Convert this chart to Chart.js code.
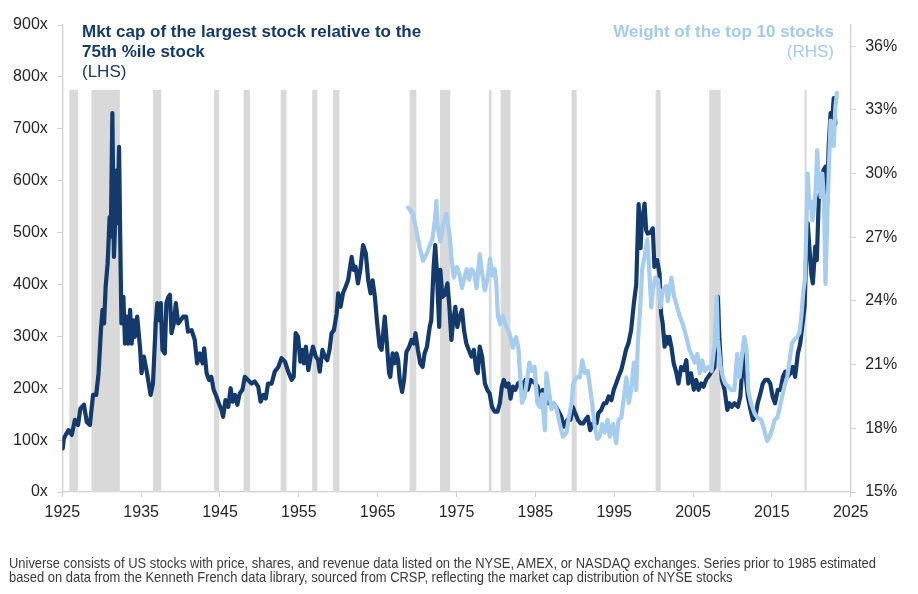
<!DOCTYPE html>
<html>
<head>
<meta charset="utf-8">
<script src="https://cdn.jsdelivr.net/npm/chart.js@4.4.1/dist/chart.umd.min.js"></script>
<style>
  html, body { margin: 0; padding: 0; background: #fff; }
  #wrap { position: relative; width: 918px; height: 594px; overflow: hidden; font-family: "Liberation Sans", Arial, sans-serif; }
  canvas { position: absolute; left: 0; top: 0; }
  .t { position: absolute; font-size: 17px; line-height: 20px; white-space: nowrap; }
  #tl { left: 82px; top: 21.5px; color: #143a6b; }
  #tr { right: 84px; top: 21.5px; color: #a3cbed; text-align: right; }
  .b { font-weight: bold; }
  #foot { position: absolute; left: 8.5px; top: 556px; font-family: "Liberation Sans Narrow", "Arial Narrow", "Liberation Sans", Arial, sans-serif; font-size: 14.5px; line-height: 14.3px; color: #3a3a3a; }
  #foot div { white-space: nowrap; transform-origin: 0 0; }
</style>
</head>
<body>
<div id="wrap">
  <canvas id="c" width="918" height="594"></canvas>
  <div class="t" id="tl"><div class="b">Mkt cap of the largest stock relative to the</div><div class="b">75th %ile stock</div><div>(LHS)</div></div>
  <div class="t" id="tr"><div class="b">Weight of the top 10 stocks</div><div>(RHS)</div></div>
  <div id="foot">
    <div id="f1">Universe consists of US stocks with price, shares, and revenue data listed on the NYSE, AMEX, or NASDAQ exchanges. Series prior to 1985 estimated</div>
    <div id="f2">based on data from the Kenneth French data library, sourced from CRSP, reflecting the market cap distribution of NYSE stocks</div>
  </div>
</div>
<script>
// ---- Data ----
const xTickYears = [1925, 1935, 1945, 1955, 1965, 1975, 1985, 1995, 2005, 2015, 2025];
const leftTicks = [0, 100, 200, 300, 400, 500, 600, 700, 800, 900];
const rightTicks = [15, 18, 21, 24, 27, 30, 33, 36];

// Recession periods (start, end) on the chart's year axis
const recessionStarts = [1925.9, 1928.7, 1936.5, 1944.25, 1948.0, 1952.7, 1956.7, 1959.35, 1969.05, 1972.9, 1979.1, 1980.6, 1989.6, 2000.25, 2007.05, 2019.15];
const recessionEnds   = [1927.0, 1932.3, 1937.55, 1944.9, 1948.8, 1953.45, 1957.35, 1960.15, 1969.9, 1974.2, 1979.45, 1981.85, 1990.25, 2000.9, 2008.5, 2019.4];
const recessionTop = 775;

// Mkt cap of the largest stock relative to the 75th %ile stock (LHS, x)
const capYears = [
1925.05,1925.2,1925.5,1925.8,1926.2,1926.6,1927.0,1927.3,1927.75,1928.1,
1928.5,1928.9,1929.3,1929.6,1929.9,1930.1,1930.3,1930.5,1930.75,1931.0,
1931.15,1931.35,1931.55,1931.7,1931.9,1932.0,1932.2,1932.35,1932.5,1932.75,
1932.95,1933.15,1933.35,1933.6,1933.8,1934.0,1934.2,1934.5,1934.85,1935.05,
1935.35,1935.75,1936.2,1936.5,1936.85,1937.05,1937.3,1937.5,1937.7,1938.0,
1938.2,1938.45,1938.65,1938.85,1939.15,1939.4,1939.7,1940.0,1940.35,1940.7,
1940.95,1941.4,1941.8,1942.1,1942.45,1942.8,1943.0,1943.3,1943.6,1943.9,
1944.2,1944.55,1944.85,1945.2,1945.4,1945.7,1946.05,1946.35,1946.6,1946.9,
1947.2,1947.5,1947.85,1948.15,1948.55,1949.0,1949.4,1949.85,1950.15,1950.5,
1950.8,1951.1,1951.55,1951.95,1952.4,1952.8,1953.25,1953.65,1954.1,1954.35,
1954.6,1954.9,1955.2,1955.45,1955.65,1955.9,1956.2,1956.5,1956.8,1957.15,
1957.45,1957.65,1958.0,1958.3,1958.6,1958.9,1959.15,1959.45,1959.8,1960.0,
1960.3,1960.6,1960.95,1961.25,1961.45,1961.7,1961.95,1962.2,1962.5,1962.8,
1963.15,1963.5,1963.8,1964.1,1964.35,1964.65,1964.9,1965.25,1965.5,1965.7,
1965.9,1966.1,1966.45,1966.6,1966.9,1967.15,1967.4,1967.6,1967.8,1968.1,
1968.35,1968.65,1969.0,1969.3,1969.6,1969.8,1970.1,1970.4,1970.7,1970.95,
1971.25,1971.6,1971.8,1972.1,1972.3,1972.5,1972.8,1972.95,1973.2,1973.5,
1973.85,1974.1,1974.35,1974.55,1974.85,1975.1,1975.4,1975.7,1975.95,1976.25,
1976.55,1976.9,1977.2,1977.5,1977.7,1977.95,1978.25,1978.6,1978.9,1979.2,
1979.5,1979.85,1980.2,1980.5,1980.75,1981.0,1981.3,1981.6,1981.85,1982.15,
1982.45,1982.8,1983.15,1983.4,1983.75,1984.05,1984.4,1984.7,1985.0,1985.3,
1985.65,1985.95,1986.2,1986.6,1987.0,1987.45,1987.85,1988.3,1988.6,1989.05,
1989.45,1989.75,1990.05,1990.4,1990.75,1991.05,1991.35,1991.65,1991.95,1992.3,
1992.75,1993.0,1993.35,1993.7,1994.0,1994.3,1994.65,1994.95,1995.25,1995.55,
1995.9,1996.2,1996.5,1996.8,1997.15,1997.5,1997.8,1997.9,1998.1,1998.35,
1998.5,1998.85,1999.05,1999.25,1999.6,1999.9,2000.1,2000.45,2000.75,2000.95,
2001.15,2001.4,2001.6,2001.8,2002.0,2002.25,2002.55,2002.85,2003.15,2003.5,
2003.85,2004.15,2004.4,2004.75,2005.1,2005.4,2005.7,2006.05,2006.35,2006.65,
2007.2,2007.7,2008.15,2008.35,2008.65,2009.0,2009.35,2009.6,2009.9,2010.25,
2010.7,2011.0,2011.3,2011.5,2011.7,2011.95,2012.3,2012.6,2012.9,2013.2,
2013.55,2013.85,2014.15,2014.5,2014.8,2015.1,2015.4,2015.75,2016.1,2016.4,
2016.7,2017.0,2017.35,2017.65,2017.95,2018.3,2018.6,2018.9,2019.15,2019.35,
2019.55,2019.75,2020.0,2020.2,2020.5,2020.7,2020.95,2021.25,2021.55,2021.8,
2022.0,2022.2,2022.45,2022.65,2022.85,2023.05
];
const capRatio = [
84,103,112,119,110,139,129,161,168,135,
129,187,187,229,312,351,325,396,441,530,
492,730,453,518,620,518,665,486,325,376,
286,338,286,351,286,331,299,338,280,229,
261,229,187,209,325,364,331,364,274,267,
364,376,380,306,325,364,325,331,338,338,
309,312,293,248,267,248,277,229,216,222,
197,184,171,158,145,177,164,200,174,187,
168,190,197,222,216,209,213,203,174,187,
180,209,209,232,241,258,251,232,216,222,
306,299,251,274,248,280,235,261,280,261,
254,232,274,261,254,274,306,312,344,383,
357,383,396,408,428,453,428,434,402,428,
476,460,408,383,408,376,331,280,274,306,
338,299,229,222,267,248,267,254,216,193,
216,270,280,293,286,306,274,248,241,267,
280,318,331,434,476,428,318,428,376,380,
402,357,293,325,357,318,338,351,312,286,
274,261,274,235,229,280,261,209,197,190,
164,155,155,171,203,216,203,209,180,203,
197,209,213,197,216,197,216,213,209,203,
180,197,177,171,171,168,158,145,126,139,
139,164,152,139,132,132,139,145,119,132,
132,152,158,171,171,184,177,197,209,222,
235,254,274,286,312,364,400,453,555,470,
518,556,505,498,500,508,434,447,421,344,
325,280,299,286,299,280,248,232,209,241,
235,254,209,229,197,216,197,209,203,216,
228,240,376,293,216,197,158,171,164,171,
164,184,248,280,222,184,158,139,145,171,
190,209,216,216,209,184,171,197,197,222,
232,222,229,241,222,267,286,325,357,453,
518,473,421,402,473,447,563,588,620,627,
556,665,730,717,759,710
];

// Weight of the top 10 stocks (RHS, %)
const weightYears = [
1968.85,1969.5,1969.9,1970.35,1970.75,1971.2,1971.6,1971.95,1972.25,1972.45,
1972.65,1972.95,1973.3,1973.7,1974.1,1974.35,1974.65,1975.05,1975.35,1975.7,
1976.0,1976.3,1976.6,1976.9,1977.25,1977.55,1977.95,1978.25,1978.6,1978.95,
1979.25,1979.55,1979.85,1980.05,1980.25,1980.55,1980.85,1981.3,1981.7,1982.15,
1982.55,1982.85,1983.1,1983.3,1983.65,1984.0,1984.25,1984.55,1984.9,1985.25,
1985.55,1985.85,1986.2,1986.4,1986.7,1987.05,1987.35,1987.7,1988.1,1988.5,
1988.95,1989.25,1989.6,1989.8,1990.2,1990.65,1990.95,1991.3,1991.65,1991.9,
1992.2,1992.5,1992.85,1993.15,1993.45,1993.8,1994.15,1994.45,1994.85,1995.25,
1995.55,1995.9,1996.25,1996.55,1996.85,1997.15,1997.5,1997.8,1998.0,1998.35,
1998.55,1998.85,1999.2,1999.5,1999.7,1999.9,2000.2,2000.55,2000.9,2001.15,
2001.6,2001.8,2002.25,2002.6,2002.85,2003.3,2003.7,2004.15,2004.55,2004.9,
2005.2,2005.55,2005.85,2006.15,2006.5,2006.95,2007.35,2007.75,2008.0,2008.15,
2008.5,2008.8,2009.1,2009.4,2009.85,2010.25,2010.6,2010.9,2011.2,2011.5,
2011.8,2012.0,2012.35,2012.8,2013.2,2013.65,2014.05,2014.4,2014.7,2015.0,
2015.35,2015.7,2016.0,2016.3,2016.6,2016.95,2017.25,2017.55,2017.9,2018.2,
2018.5,2018.75,2019.0,2019.2,2019.3,2019.4,2019.55,2019.75,2019.95,2020.15,
2020.35,2020.55,2020.75,2020.95,2021.2,2021.4,2021.6,2021.8,2022.0,2022.25,
2022.45,2022.65,2022.85,2023.05,2023.25
];
const weightPct = [
28.4,28.1,27.3,26.5,25.9,26.2,26.6,26.9,27.8,28.7,
27.4,26.8,27.6,28.1,27.2,26.1,25.1,25.6,25.3,24.6,
25.1,25.5,25.0,25.5,25.3,24.6,26.2,25.3,24.5,25.1,
26.0,25.2,25.5,24.8,23.3,22.9,23.3,22.8,22.5,21.8,
22.3,21.8,20.3,19.2,19.5,20.4,21.1,20.7,20.9,19.2,
19.0,19.6,17.9,20.6,19.8,18.9,19.2,18.9,18.2,17.6,
17.8,18.5,19.2,20.1,20.4,20.4,21.2,20.6,20.7,20.0,
19.2,18.2,17.5,17.6,18.2,17.8,18.4,17.6,18.2,17.3,
18.4,18.5,19.5,20.4,19.2,19.8,21.1,19.8,22.0,24.0,
25.5,26.1,26.9,25.1,23.7,24.5,25.1,25.0,23.7,24.5,
24.7,24.0,25.1,24.2,23.9,23.3,22.9,22.3,21.7,21.4,
21.1,21.5,20.6,21.2,20.7,20.9,20.7,22.0,24.2,22.2,
20.9,20.4,20.1,20.0,19.8,19.8,21.5,20.4,21.4,22.3,
21.7,19.8,19.2,18.7,18.5,18.4,17.9,17.4,17.6,17.9,
18.4,18.5,19.0,19.5,20.0,20.4,21.2,22.0,22.2,22.3,
22.5,23.3,24.5,25.0,26.4,27.8,30.0,28.4,28.7,27.8,
28.4,29.2,31.1,29.7,28.9,30.0,28.9,24.8,27.5,30.5,
32.5,32.0,31.3,33.1,33.8
];

// ---- Chart ----
const NAVY = '#133a6a';
const LIGHT = '#a6cdee';
const AXIS = '#cfcfcf';
const TICKTXT = '#262626';

const recessionPlugin = {
  id: 'recessions',
  beforeDatasetsDraw(chart) {
    const ctx = chart.ctx, xs = chart.scales.x, ys = chart.scales.yL;
    ctx.save();
    ctx.fillStyle = '#d9d9d9';
    const yTop = ys.getPixelForValue(recessionTop), yBot = ys.getPixelForValue(0);
    for (let i = 0; i < recessionStarts.length; i++) {
      const x0 = xs.getPixelForValue(recessionStarts[i]);
      const x1 = xs.getPixelForValue(recessionEnds[i]);
      ctx.fillRect(x0, yTop, Math.max(x1 - x0, 1.5), yBot - yTop);
    }
    ctx.restore();
  }
};

const tickFont = { family: '"Liberation Sans", Arial, sans-serif', size: 16 };

new Chart(document.getElementById('c'), {
  type: 'line',
  data: {
    datasets: [
      {
        label: 'Weight of the top 10 stocks (RHS)',
        data: weightYears.map((y, i) => ({ x: y, y: weightPct[i] })),
        yAxisID: 'yR',
        borderColor: LIGHT,
        borderWidth: 4.2,
        pointRadius: 0,
        tension: 0,
        borderJoinStyle: 'round',
        borderCapStyle: 'round',
        order: 1
      },
      {
        label: 'Mkt cap of the largest stock relative to the 75th %ile stock (LHS)',
        data: capYears.map((y, i) => ({ x: y, y: capRatio[i] })),
        yAxisID: 'yL',
        borderColor: NAVY,
        borderWidth: 4.2,
        pointRadius: 0,
        tension: 0,
        borderJoinStyle: 'round',
        borderCapStyle: 'round',
        order: 2
      }
    ]
  },
  options: {
    responsive: false,
    animation: false,
    layout: { padding: { top: 25, left: 0, right: 0, bottom: 0 } },
    plugins: { legend: { display: false }, tooltip: { enabled: false }, title: { display: false } },
    scales: {
      x: {
        type: 'linear', min: 1925, max: 2025,
        afterBuildTicks: s => { s.ticks = xTickYears.map(v => ({ value: v })); },
        afterFit: s => { s.height = 102; },
        ticks: { callback: v => String(v), font: tickFont, color: TICKTXT, padding: 6, maxRotation: 0, autoSkip: false },
        grid: { drawOnChartArea: false, drawTicks: true, tickLength: 5, color: AXIS },
        border: { display: true, color: AXIS, width: 1.3 }
      },
      yL: {
        type: 'linear', position: 'left', min: 0, max: 900,
        afterBuildTicks: s => { s.ticks = leftTicks.map(v => ({ value: v })); },
        afterFit: s => { s.width = 62.3; },
        ticks: { callback: v => v + 'x', font: tickFont, color: TICKTXT, padding: 9.5 },
        grid: { drawOnChartArea: false, drawTicks: true, tickLength: 5, color: AXIS },
        border: { display: true, color: AXIS, width: 1.3 }
      },
      yR: {
        type: 'linear', position: 'right', min: 15, max: 37,
        afterBuildTicks: s => { s.ticks = rightTicks.map(v => ({ value: v })); },
        afterFit: s => { s.width = 67.3; },
        ticks: { callback: v => v + '%', font: tickFont, color: TICKTXT, padding: 9.5 },
        grid: { drawOnChartArea: false, drawTicks: true, tickLength: 5, color: AXIS },
        border: { display: true, color: AXIS, width: 1.3 }
      }
    }
  },
  plugins: [recessionPlugin]
});

// Fit footnote to the reference's condensed width
function fitFoot() {
  const f1 = document.getElementById('f1'), f2 = document.getElementById('f2');
  f1.style.transform = 'none'; f2.style.transform = 'none';
  const w = f1.getBoundingClientRect().width;
  if (w > 0) {
    const k = 867 / w;
    f1.style.transform = 'scaleX(' + k + ')';
    f2.style.transform = 'scaleX(' + k + ')';
  }
}
fitFoot();
if (document.fonts && document.fonts.ready) document.fonts.ready.then(fitFoot);
</script>
</body>
</html>
